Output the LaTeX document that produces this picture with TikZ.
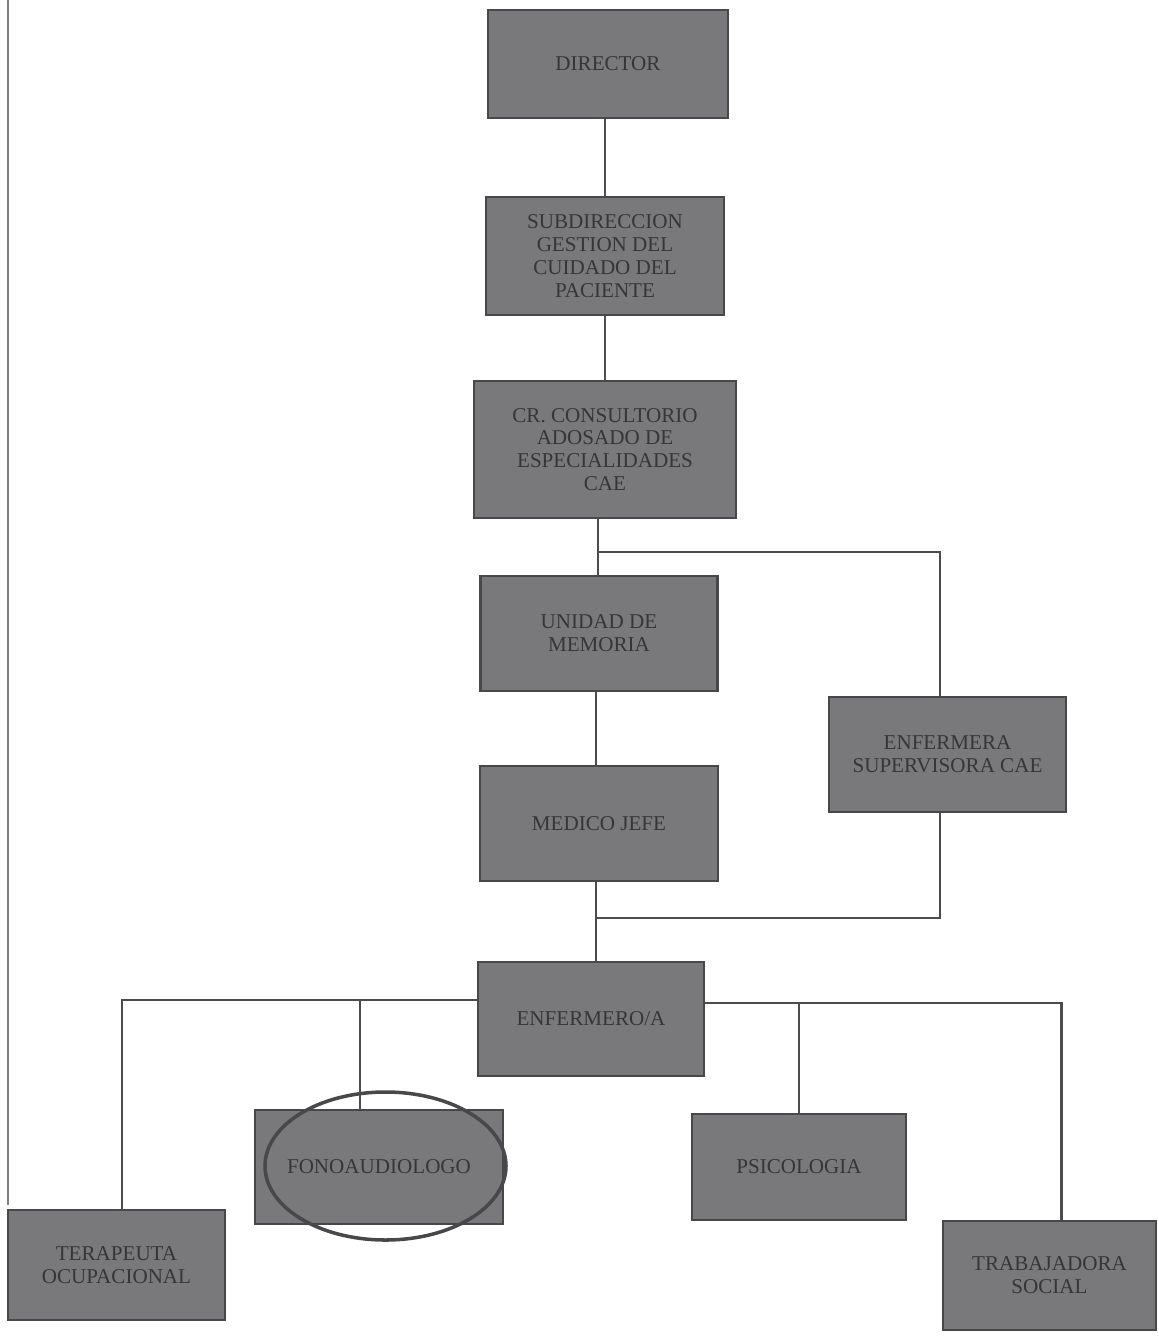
\documentclass[tikz,border=0pt]{standalone}
\usepackage{fontspec}
\setmainfont{Liberation Serif}
\usepackage{tikz}
\usepackage{xcolor}

\definecolor{boxgray}{HTML}{79797B}
\definecolor{edgegray}{HTML}{48484A}
\definecolor{txtgray}{HTML}{363638}
\definecolor{linegray}{HTML}{4C4C4E}

\tikzset{
  cargo/.style={draw=edgegray, fill=boxgray, line width=1.2pt, inner sep=0pt,
    align=center, text=txtgray, font=\fontsize{12}{13}\selectfont},
  rama/.style={draw=linegray, line width=1.6pt}
}

\begin{document}
\begin{tikzpicture}

\useasboundingbox (0,0) rectangle (23.18,-26.72);

\draw [gray, line width=0.6pt] (0.16,0) -- (0.16,-24.1);

\node [cargo, minimum width=4.8cm, minimum height=2.16cm] at (12.16,-1.28) (dir) {DIRECTOR};
\node [cargo, minimum width=4.76cm, minimum height=2.36cm] at (12.10,-5.12) (sub) {SUBDIRECCION\\GESTION DEL\\CUIDADO DEL\\PACIENTE};
\node [cargo, minimum width=5.24cm, minimum height=2.74cm] at (12.10,-8.99) (cr) {CR. CONSULTORIO\\ADOSADO DE\\ESPECIALIDADES\\CAE};
\node [cargo, minimum width=4.74cm, minimum height=2.3cm] at (11.98,-12.67) (unidad) {UNIDAD DE\\MEMORIA};
\node [cargo, minimum width=4.74cm, minimum height=2.3cm] at (18.95,-15.09) (sup) {ENFERMERA\\SUPERVISORA CAE};
\node [cargo, minimum width=4.76cm, minimum height=2.3cm] at (11.98,-16.47) (jefe) {MEDICO JEFE};
\node [cargo, minimum width=4.52cm, minimum height=2.28cm] at (11.82,-20.38) (enf) {ENFERMERO/A};
\node [cargo, minimum width=4.96cm, minimum height=2.28cm] at (7.58,-23.34) (fono) {FONOAUDIOLOGO};
\node [cargo, minimum width=4.28cm, minimum height=2.12cm] at (15.98,-23.34) (psico) {PSICOLOGIA};
\node [cargo, minimum width=4.34cm, minimum height=2.2cm] at (2.33,-25.3) (terap) {TERAPEUTA\\OCUPACIONAL};
\node [cargo, minimum width=4.26cm, minimum height=2.18cm] at (20.99,-25.51) (trab) {TRABAJADORA\\SOCIAL};

\draw [edgegray, line width=2pt] (7.71,-23.32) ellipse (2.41 and 1.48);

\coordinate (j1) at (11.96,-11.04);
\coordinate (j2) at (11.92,-18.36);
\coordinate (izq) at ([yshift=0.38cm]enf.west);
\coordinate (der) at ([yshift=0.32cm]enf.east);

\draw [rama] (dir.south -| sub.north) -- (sub.north);
\draw [rama] (sub.south) -- (sub.south |- cr.north);
\draw [rama] (cr.south -| j1) -- (unidad.north -| j1);
\draw [rama] (j1) -| ([xshift=-0.15cm]sup.north);
\draw [rama] (unidad.south -| j2) -- (jefe.north -| j2);
\draw [rama] ([xshift=-0.15cm]sup.south) |- (j2);
\draw [rama] (jefe.south -| j2) -- (enf.north -| j2);
\draw [rama] (izq) -| ([xshift=0.11cm]terap.north);
\draw [rama] ([xshift=-0.38cm]fono.north) -- ([xshift=-0.38cm]fono.north |- izq);
\draw [rama] (der) -| ([xshift=0.24cm]trab.north);
\draw [rama] (psico.north) -- (psico.north |- der);

\end{tikzpicture}
\end{document}
